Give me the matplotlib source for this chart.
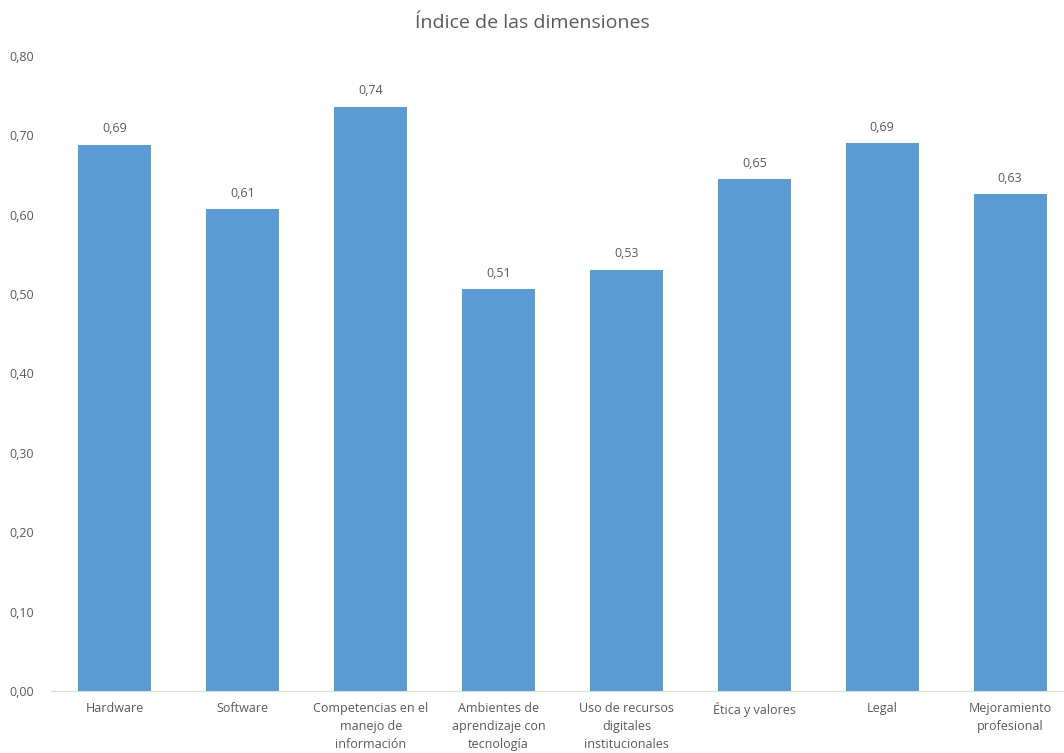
import matplotlib
matplotlib.use('Agg')
import matplotlib.pyplot as plt

categories = ['Hardware', 'Software', 'Competencias en el\nmanejo de\ninformación',
              'Ambientes de\naprendizaje con\ntecnología', 'Uso de recursos\ndigitales\ninstitucionales',
              'Ética y valores', 'Legal', 'Mejoramiento\nprofesional']
values = [0.688, 0.607, 0.736, 0.506, 0.531, 0.645, 0.690, 0.626]
y_ticks = [0.0, 0.1, 0.2, 0.3, 0.4, 0.5, 0.6, 0.7, 0.8]

plt.rcParams['font.family'] = ['Open Sans', 'DejaVu Sans']
grey = '#595959'

fig = plt.figure(figsize=(10.64, 7.53), dpi=100)
ax = fig.add_axes([51 / 1064, 62 / 753, 1023 / 1064, 635 / 753])

x = range(len(categories))
bars = ax.bar(x, values, width=0.57, color='#5B9BD5')
for b, v in zip(bars, values):
    ax.text(b.get_x() + b.get_width() / 2, v + 0.012, '{:.2f}'.format(v).replace('.', ','),
            ha='center', va='bottom', fontsize=9, color=grey)

ax.set_xlim(-0.5, 7.5)
ax.set_ylim(0, 0.8)
ax.set_yticks(y_ticks)
ax.set_yticklabels(['{:.2f}'.format(t).replace('.', ',') for t in y_ticks], fontsize=9, color=grey)
ax.set_xticks(list(x))
ax.set_xticklabels(categories, fontsize=9, color=grey, linespacing=1.5, va='top')
ax.tick_params(axis='both', length=0)
ax.tick_params(axis='y', pad=12)
ax.tick_params(axis='x', pad=8)
for s in ['top', 'right', 'left']:
    ax.spines[s].set_visible(False)
ax.spines['bottom'].set_color('#d9d9d9')

fig.text(0.5, 0.97, 'Índice de las dimensiones', ha='center', va='center', fontsize=14, color=grey)

fig.savefig('out.png', dpi=100)
